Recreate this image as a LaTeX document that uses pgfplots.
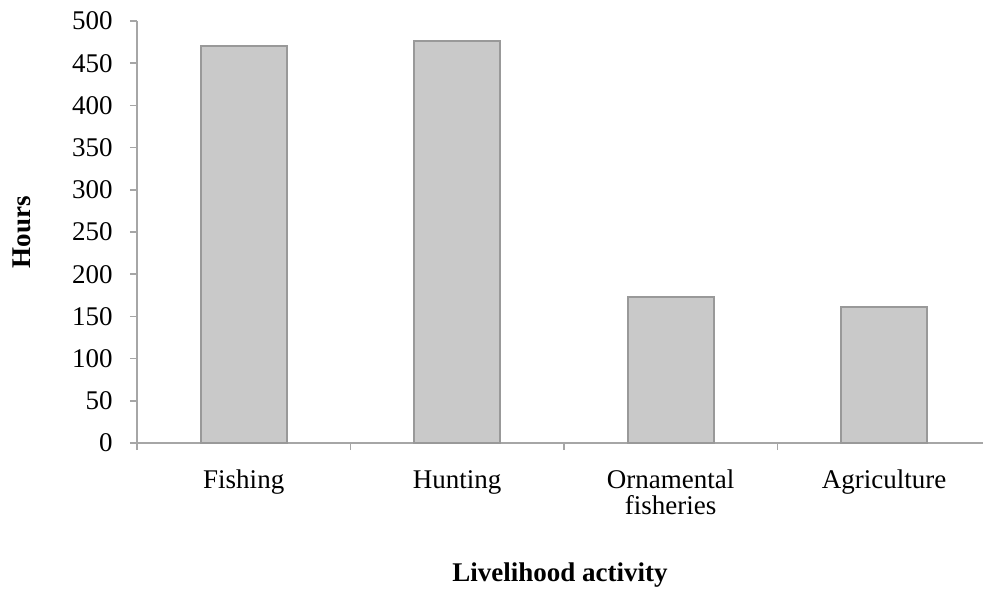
\documentclass[border=0pt]{standalone}
\usepackage{fontspec}
\setmainfont{Liberation Serif}
\usepackage{pgfplots}
\pgfplotsset{compat=1.18}
\definecolor{barfill}{HTML}{C9C9C9}
\definecolor{bardraw}{HTML}{999999}
\definecolor{axgray}{HTML}{A6A6A6}
\newcommand\st{\rule{0pt}{11bp}}
\begin{document}
\fontsize{13.5bp}{15bp}\selectfont
\begin{tikzpicture}
\begin{axis}[
  at={(0,0)}, anchor=south west,
  scale only axis, width=423bp, height=211bp,
  xmin=-0.5, xmax=3.463, ymin=0, ymax=500,
  axis x line=bottom, axis y line=left,
  axis line style={draw=axgray, line width=0.8bp, -},
  ytick={0,50,...,500},
  xtick={0,1,2,3},
  xticklabels={\st Fishing,\st Hunting,{\st Ornamental\\fisheries},\st Agriculture},
  minor xtick={-0.5,0.5,1.5,2.5},
  tick align=outside,
  major tick length=3.5bp, minor tick length=3.5bp,
  xtick style={draw=none},
  minor x tick style={draw=axgray, line width=0.8bp},
  ytick style={draw=axgray, line width=0.8bp},
  /pgf/number format/assume math mode=true,
  /pgf/number format/1000 sep={},
  yticklabel style={font=\fontsize{13.5bp}{15bp}\selectfont, xshift=-4bp},
  xticklabel style={font=\fontsize{13.5bp}{13bp}\selectfont, align=center, anchor=north, yshift=-3.5bp},
  xlabel={\textbf{Livelihood activity}},
  ylabel={\textbf{Hours}},
  xlabel style={font=\fontsize{13.5bp}{15bp}\selectfont, at={(rel axis cs:0.5,0)}, anchor=center, yshift=-66bp},
  ylabel style={font=\fontsize{13.5bp}{15bp}\selectfont, at={(rel axis cs:0,0.5)}, anchor=center, yshift=57.5bp},
  ybar, bar width=43bp,
  clip=false,
]
\addplot[fill=barfill, draw=bardraw, line width=1bp] coordinates {(0,470) (1,476) (2,173) (3,161)};
\end{axis}
\pgfresetboundingbox
\path (-68.5bp,-75bp) rectangle (423bp,221.5bp);
\end{tikzpicture}
\end{document}
